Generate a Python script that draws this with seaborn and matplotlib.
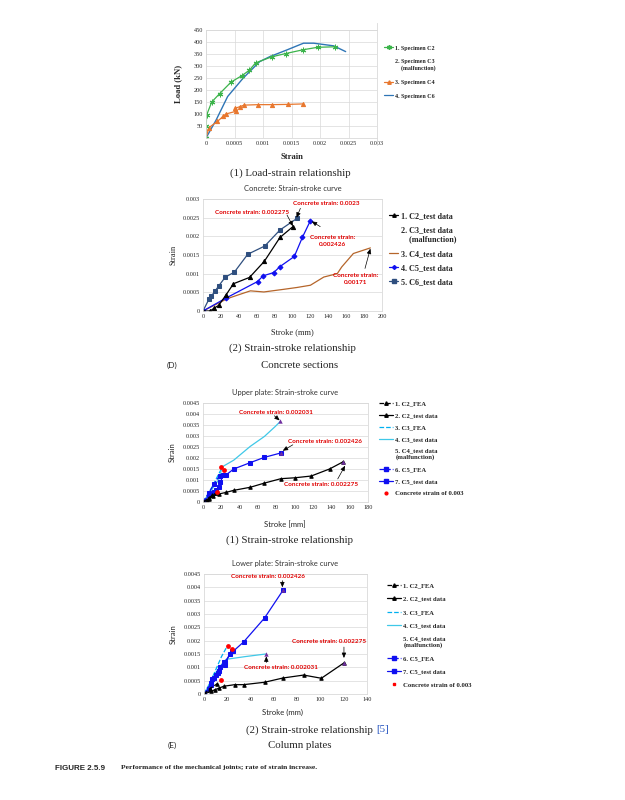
import numpy as np
import matplotlib
matplotlib.use("Agg")
import matplotlib.pyplot as plt
from matplotlib.lines import Line2D
from matplotlib.ticker import FuncFormatter
import seaborn as sns

# (1) Load-strain relationship
ls_c2_strain = [0, 0.000005, 0.00001, 0.0001, 0.00024, 0.00044, 0.00063, 0.00076, 0.00087, 0.00115, 0.0014, 0.00171, 0.00196, 0.00226]
ls_c2_load = [0, 50, 95, 150, 185, 233, 260, 282, 313, 338, 352, 368, 378, 380]
ls_c4_strain = [0, 0.00005, 0.0002, 0.0003, 0.00035, 0.00052, 0.0005, 0.0006, 0.00067, 0.00092, 0.00115, 0.00143, 0.00171]
ls_c4_load = [0, 43, 69, 90, 100, 111, 123, 131, 137, 139, 139, 140, 142]
ls_c6_strain = [0, 0.00018, 0.00038, 0.00065, 0.00094, 0.00112, 0.00142, 0.00171, 0.00189, 0.00224, 0.00245]
ls_c6_load = [0, 76, 173, 249, 318, 339, 367, 395, 395, 384, 360]

# (2) Concrete strain-stroke
cs_c2_stroke = [0, 8, 12.7, 17.5, 26, 34, 52, 68.5, 86, 100.5]
cs_c2_strain = [0, 0, 0.00008, 0.00015, 0.00044, 0.00073, 0.0009, 0.00133, 0.00197, 0.00226]
cs_c4_stroke = [0, 27, 38, 53, 68, 90, 105, 120, 135, 150, 155, 168, 187]
cs_c4_strain = [0, 0.00033, 0.00042, 0.00054, 0.00051, 0.00058, 0.00063, 0.00069, 0.00091, 0.001, 0.00118, 0.00154, 0.00169]
cs_c5_stroke = [0, 26, 61, 67, 79, 86, 102, 111, 120]
cs_c5_strain = [0, 0.00035, 0.00079, 0.00094, 0.00103, 0.00119, 0.00146, 0.00197, 0.00242]
cs_c6_stroke = [0, 6.7, 9, 13.4, 17.5, 25, 35, 50, 69, 86, 105]
cs_c6_strain = [0, 0.00032, 0.00039, 0.00053, 0.00067, 0.00091, 0.00104, 0.00152, 0.00174, 0.00217, 0.00248]

# (E1) Upper plate
up_c2fea_stroke = [0, 4, 7, 10, 14]
up_c2fea_strain = [0, 0.0001, 0.0002, 0.0003, 0.0004]
up_c2_stroke = [0, 6.2, 11, 17, 25.5, 33.5, 51.6, 67, 85, 100, 118, 138, 153]
up_c2_strain = [0, 0.00015, 0.00026, 0.00036, 0.00044, 0.00053, 0.00067, 0.00086, 0.00106, 0.0011, 0.00118, 0.0015, 0.00183]
up_c3fea_stroke = [0, 5, 10, 15, 20]
up_c3fea_strain = [0, 0.0003, 0.0007, 0.0011, 0.0015]
up_c3_stroke = [0, 17, 21, 33.5, 51.6, 67, 79, 84.5]
up_c3_strain = [0, 0.001, 0.0016, 0.0019, 0.00253, 0.00298, 0.00344, 0.00367]
up_c5fea_stroke = [0, 6, 12, 18]
up_c5fea_strain = [0, 0.0004, 0.0008, 0.0012]
up_c5_stroke = [0, 7, 11.6, 14.5, 17, 19, 22, 25.5, 33.5, 51.6, 67, 85]
up_c5_strain = [0, 0.0003, 0.00045, 0.00056, 0.00068, 0.0009, 0.00124, 0.00124, 0.0015, 0.00179, 0.00203, 0.00223]
up_end_stroke = [84.5, 85, 153]
up_end_strain = [0.00367, 0.00223, 0.00183]
up_red_stroke = [20, 23.3, 15.3]
up_red_strain = [0.00158, 0.00147, 0.00045]

# (E2) Lower plate
lp_c2fea_stroke = [0, 5, 11.5]
lp_c2fea_strain = [0, 0.0002, 0.00039]
lp_c2_stroke = [0, 6.3, 9.2, 12.9, 16.9, 26.3, 34, 52, 67.8, 85.6, 100.8, 120]
lp_c2_strain = [0, 0.0001, 0.00016, 0.00022, 0.00029, 0.00035, 0.00035, 0.00044, 0.0006, 0.00071, 0.00059, 0.00116]
lp_c3fea_stroke = [0, 5, 10, 15, 20]
lp_c3fea_strain = [0, 0.0004, 0.0009, 0.0014, 0.0018]
lp_c3_stroke = [0, 5, 10, 15, 19, 35, 53]
lp_c3_strain = [0, 0.0004, 0.0008, 0.0011, 0.0013, 0.0014, 0.0015]
lp_c5fea_stroke = [0, 6, 12, 18, 24]
lp_c5fea_strain = [0, 0.0004, 0.0008, 0.0012, 0.0016]
lp_c5_stroke = [0, 4, 6, 7, 9, 10, 13, 14, 17, 18, 22, 25, 34, 52, 68]
lp_c5_strain = [0, 0.0002, 0.00035, 0.00058, 0.0006, 0.0007, 0.00085, 0.001, 0.0012, 0.0011, 0.0015, 0.0016, 0.00195, 0.00285, 0.0039]
lp_end_stroke = [68, 53, 120]
lp_end_strain = [0.0039, 0.0015, 0.00116]
lp_red_stroke = [20.6, 24, 15]
lp_red_strain = [0.0018, 0.00168, 0.00051]

SERIF = "Liberation Serif"
SANS = "Lato"
RED = "#E00000"
PURPLE = "#7030A0"
CYAN = "#00B0F0"
GRID = "#D9D9D9"

sns.set_style("white")
plt.rcParams["font.family"] = [SERIF, "DejaVu Sans"]

W, H = 625, 800
fig = plt.figure(figsize=(6.25, 8), dpi=100)


def box(l, t, r, b):
    return [l / W, 1 - b / H, (r - l) / W, (b - t) / H]


def ftext(x, y, s, **kw):
    fig.text(x / W, 1 - y / H, s, **kw)


def line(ax, x, y, color, marker=None, ls="-", ms=3, lw=0.9):
    sns.lineplot(x=x, y=y, ax=ax, color=color, marker=marker, linestyle=ls,
                 markersize=ms, linewidth=lw, markeredgecolor=color,
                 sort=False, estimator=None, legend=False)


def style(ax, xmax, xstep, ymax, ystep, tickfont, vgrid=False, skip_zero_y=False):
    ax.set_xlim(0, xmax)
    ax.set_ylim(0, ymax)
    ax.set_xticks(np.arange(0, xmax + xstep / 2, xstep))
    ax.set_yticks(np.arange(0, ymax + ystep / 2, ystep))
    ax.yaxis.set_major_formatter(FuncFormatter(
        lambda v, p: "" if (skip_zero_y and v == 0) else "%g" % round(v, 6)))
    ax.xaxis.set_major_formatter(FuncFormatter(lambda v, p: "%g" % round(v, 6)))
    ax.tick_params(length=0, pad=2, labelsize=4.5)
    for lab in ax.get_xticklabels() + ax.get_yticklabels():
        lab.set_family(tickfont)
    ax.grid(axis="y", color=GRID, lw=0.5)
    if vgrid:
        ax.grid(axis="x", color=GRID, lw=0.5)
    for s in ax.spines.values():
        s.set_color(GRID)
        s.set_linewidth(0.6)
    ax.set_xlabel("")
    ax.set_ylabel("")


def note(ax, s, xy, arrow_from=None, arrow_to=None):
    ax.text(xy[0], xy[1], s, color=RED, fontsize=4.6, fontweight="bold",
            family=SANS, ha="center", va="center", linespacing=1.6)
    if arrow_from is not None:
        ax.annotate("", xy=arrow_to, xytext=arrow_from,
                    arrowprops=dict(arrowstyle="-|>,head_length=0.3,head_width=0.13",
                                    color="black", lw=0.5, shrinkA=0, shrinkB=0))


def legend(ax, handles, labels, x, y, spacing=0.55, hl=2.0, size=4.8):
    ax.legend(handles, labels, loc="upper left", bbox_to_anchor=(x / W, 1 - y / H),
              bbox_transform=fig.transFigure, frameon=False,
              prop=dict(family=SERIF, weight="bold", size=size),
              handlelength=hl, handletextpad=0.3, labelspacing=spacing, borderaxespad=0)


def h(color, marker=None, ls="-", ms=2.5):
    return Line2D([], [], color=color, marker=marker, ls=ls, lw=0.9, markersize=ms)


blank = Line2D([], [], color="none")

# ---------- (1) Load-strain ----------
ax1 = fig.add_axes(box(206, 30, 377, 138))
line(ax1, ls_c6_strain, ls_c6_load, "#2E75B6", lw=1.0)
line(ax1, ls_c4_strain, ls_c4_load, "#E8772E", marker="^", ms=3)
line(ax1, ls_c2_strain, ls_c2_load, "#3CB44B", marker=(6, 2, 0), ms=4)
style(ax1, 0.003, 0.0005, 450, 50, SERIF, vgrid=True, skip_zero_y=True)
ax1.spines["right"].set_bounds(-30, 480)
ax1.spines["right"].set_clip_on(False)
ftext(292, 157, "Strain", ha="center", va="center", fontsize=6.2, fontweight="bold", family=SERIF)
ftext(178, 84, "Load (kN)", ha="center", va="center", rotation=90, fontsize=6.2,
      fontweight="bold", family=SERIF)
legend(ax1, [h("#3CB44B", (6, 2, 0), ms=3.5), blank, h("#E8772E", "^"), h("#2E75B6")],
       ["1. Specimen C2", "2. Specimen C3\n    (malfunction)", "3. Specimen C4", "4. Specimen C6"],
       382, 43, spacing=1.45, hl=1.5, size=4.3)
ftext(290, 173, "(1) Load-strain relationship", ha="center", va="center", fontsize=7.8, family=SERIF)

# ---------- (2) Concrete ----------
ax2 = fig.add_axes(box(203, 199, 382, 311))
line(ax2, cs_c4_stroke, cs_c4_strain, "#B5652A", lw=0.9)
line(ax2, cs_c6_stroke, cs_c6_strain, "#2F4F7F", marker="s", ms=3)
line(ax2, cs_c5_stroke, cs_c5_strain, "#1010F0", marker="D", ms=2.5)
line(ax2, cs_c2_stroke, cs_c2_strain, "black", marker="^", ms=3)
style(ax2, 200, 20, 0.003, 0.0005, SERIF)
ax2.set_title("Concrete: Strain-stroke curve", family=SANS, fontsize=5.4, color="#333333", pad=6)
note(ax2, "Concrete strain: 0.0023", (137.8, 0.00288), (108.8, 0.00275), (104.5, 0.0025))
note(ax2, "Concrete strain: 0.002275", (54.7, 0.00264), (93.9, 0.00257), (100.5, 0.00227))
note(ax2, "Concrete strain:\n0.002426", (145, 0.00188), (131, 0.00226), (121.5, 0.0024))
note(ax2, "Concrete strain:\n0.00171", (170, 0.00086), (181, 0.00114), (187, 0.00167))
ftext(292, 332, "Stroke (mm)", ha="center", va="center", fontsize=6, family=SERIF)
ftext(173, 255, "Strain", ha="center", va="center", rotation=90, fontsize=6, family=SERIF)
legend(ax2, [h("black", "^"), blank, h("#B5652A"), h("#1010F0", "D", ms=2), h("#2F4F7F", "s")],
       ["1. C2_test data", "2. C3_test data\n    (malfunction)", "3. C4_test data",
        "4. C5_test data", "5. C6_test data"],
       386, 209, spacing=0.75, hl=1.1, size=5.9)
ftext(292, 348, "(2) Strain-stroke relationship", ha="center", va="center", fontsize=7.8, family=SERIF)
ftext(172, 365, "(D)", ha="center", va="center", fontsize=6, family=SANS)
ftext(300, 365, "Concrete sections", ha="center", va="center", fontsize=7.8, family=SERIF)

# ---------- (E1) Upper plate ----------
ax3 = fig.add_axes(box(203, 403, 368, 502))
line(ax3, up_c3fea_stroke, up_c3fea_strain, CYAN, ls="--")
line(ax3, up_c3_stroke, up_c3_strain, "#3FC8E8")
line(ax3, up_c5fea_stroke, up_c5fea_strain, "#1010F0", marker="s", ls="--", ms=2.5)
line(ax3, up_c5_stroke, up_c5_strain, "#1010F0", marker="s", ms=3)
line(ax3, up_c2fea_stroke, up_c2fea_strain, "black", marker="^", ls="--", ms=2.5)
line(ax3, up_c2_stroke, up_c2_strain, "black", marker="^", ms=2.5)
sns.scatterplot(x=up_end_stroke, y=up_end_strain, ax=ax3, color=PURPLE, marker="^", s=10, linewidth=0, zorder=5)
sns.scatterplot(x=up_red_stroke, y=up_red_strain, ax=ax3, color="red", s=12, linewidth=0, zorder=6)
style(ax3, 180, 20, 0.0045, 0.0005, SERIF)
ax3.set_title("Upper plate: Strain-stroke curve", family=SANS, fontsize=5.4, color="#333333", pad=6)
note(ax3, "Concrete strain: 0.002031", (80, 0.00409), (77.8, 0.00392), (83.6, 0.00371))
note(ax3, "Concrete strain: 0.002426", (132.7, 0.00276), (98, 0.0026), (87, 0.00233))
note(ax3, "Concrete strain: 0.002275", (128.7, 0.00079), (147, 0.00105), (155, 0.00165))
ftext(285, 525, "Stroke [mm]", ha="center", va="center", fontsize=5.6, family=SANS)
ftext(172, 452, "Strain", ha="center", va="center", rotation=90, fontsize=5.6, family=SANS)
legend(ax3, [h("black", "^", "--"), h("black", "^"), h(CYAN, None, "--"), h("#3FC8E8"), blank,
             h("#1010F0", "s", "--"), h("#1010F0", "s"),
             Line2D([], [], color="red", marker="o", ls="none", markersize=2)],
       ["1. C2_FEA", "2. C2_test data", "3. C3_FEA", "4. C3_test data",
        "5. C4_test data\n(malfunction)", "6. C5_FEA", "7. C5_test data", "Concrete strain of 0.003"],
       376, 398, spacing=0.95, hl=2.2)
ftext(290, 540, "(1) Strain-stroke relationship", ha="center", va="center", fontsize=7.8, family=SERIF)

# ---------- (E2) Lower plate ----------
ax4 = fig.add_axes(box(204, 574, 367, 694))
line(ax4, lp_c3fea_stroke, lp_c3fea_strain, CYAN, ls="--")
line(ax4, lp_c3_stroke, lp_c3_strain, "#3FC8E8")
line(ax4, lp_c5fea_stroke, lp_c5fea_strain, "#1010F0", marker="s", ls="--", ms=2.5)
line(ax4, lp_c5_stroke, lp_c5_strain, "#1010F0", marker="s", ms=3)
line(ax4, lp_c2fea_stroke, lp_c2fea_strain, "black", marker="^", ls="--", ms=2.5)
line(ax4, lp_c2_stroke, lp_c2_strain, "black", marker="^", ms=2.5)
sns.scatterplot(x=lp_end_stroke, y=lp_end_strain, ax=ax4, color=PURPLE, marker="^", s=10, linewidth=0, zorder=5)
sns.scatterplot(x=lp_red_stroke, y=lp_red_strain, ax=ax4, color="red", s=12, linewidth=0, zorder=6)
style(ax4, 140, 20, 0.0045, 0.0005, SERIF)
ax4.set_title("Lower plate: Strain-stroke curve", family=SANS, fontsize=5.4, color="#333333", pad=6)
note(ax4, "Concrete strain: 0.002426", (55, 0.0044), (67.3, 0.00425), (67.3, 0.004))
note(ax4, "Concrete strain: 0.002275", (107, 0.00196), (120.2, 0.00176), (120.2, 0.00135))
note(ax4, "Concrete strain: 0.002031", (66.4, 0.001), (53.5, 0.00118), (53.5, 0.00141))
ftext(282, 712, "Stroke (mm)", ha="center", va="center", fontsize=5.6, family=SANS)
ftext(173, 634, "Strain", ha="center", va="center", rotation=90, fontsize=5.6, family=SANS)
legend(ax4, [h("black", "^", "--"), h("black", "^"), h(CYAN, None, "--"), h("#3FC8E8"), blank,
             h("#1010F0", "s", "--"), h("#1010F0", "s"),
             Line2D([], [], color="red", marker="s", ls="none", markersize=1.8)],
       ["1. C2_FEA", "2. C2_test data", "3. C3_FEA", "4. C3_test data",
        "5. C4_test data\n(malfunction)", "6. C5_FEA", "7. C5_test data", "Concrete strain of 0.003"],
       384, 580, spacing=1.15, hl=2.2)
ftext(373, 730, "(2) Strain-stroke relationship", ha="right", va="center", fontsize=7.8, family=SERIF)
ftext(376, 730, "[5]", ha="left", va="center", fontsize=7.8, family=SERIF, color="#1F4FBF")
ftext(172, 745, "(E)", ha="center", va="center", fontsize=6, family=SANS)
ftext(300, 745, "Column plates", ha="center", va="center", fontsize=7.8, family=SERIF)

ftext(55, 768, "FIGURE 2.5.9", ha="left", va="center", fontsize=5.8, fontweight="bold", family="Liberation Sans")
ftext(121, 768, "Performance of the mechanical joints; rate of strain increase.", ha="left",
      va="center", fontsize=5.4, fontweight="bold", family=SERIF, color="#222222")

fig.savefig("out.png", dpi=100, facecolor="white")
